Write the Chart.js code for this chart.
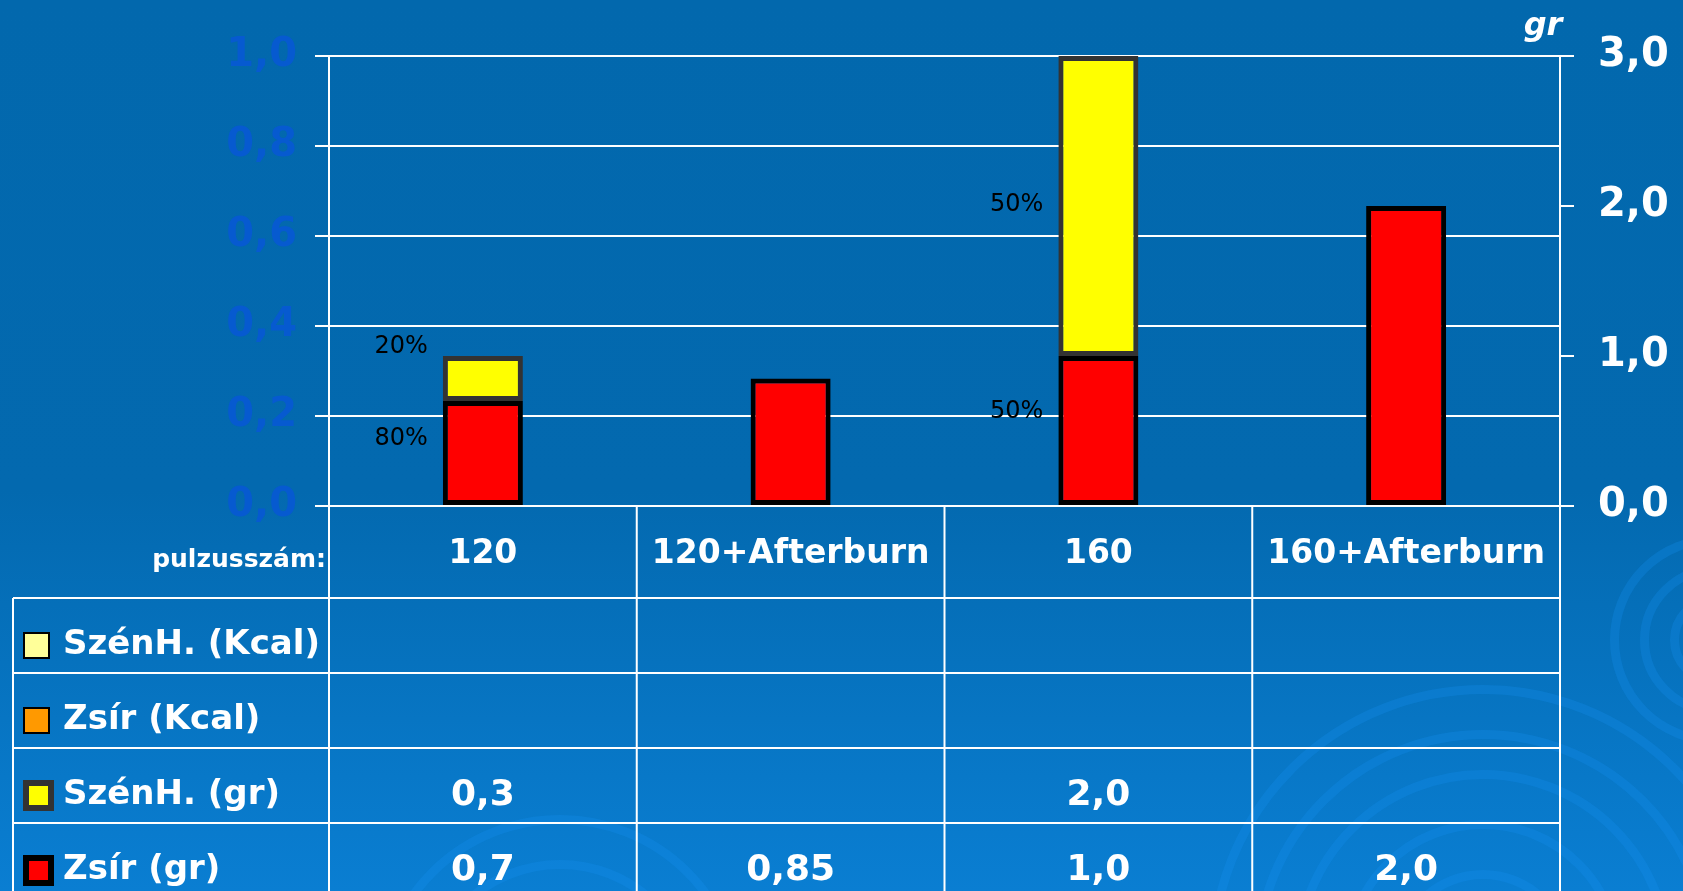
<!DOCTYPE html>
<html>
<head>
<meta charset="utf-8">
<title>Zsír és szénhidrát égetés</title>
<script src="https://cdn.jsdelivr.net/npm/chart.js@4.4.1/dist/chart.umd.min.js"></script>
<style>
  html, body { margin: 0; padding: 0; }
  body {
    width: 1683px; height: 891px; overflow: hidden; position: relative;
    background: linear-gradient(to bottom, #0268ad 0%, #0369af 55%, #0a7ed2 100%);
  }
  .kor { position: absolute; box-sizing: border-box; border-radius: 50%; border: 9px solid rgba(20, 145, 240, 0.28); }
  #doboz { position: absolute; left: 0; top: 0; width: 1683px; height: 891px; }
</style>
</head>
<body>
<div id="diszek"></div>
<div id="doboz"><canvas id="grafikon"></canvas></div>
<script>
// adatok
const kategoriak = ['120', '120+Afterburn', '160', '160+Afterburn'];
const szenhKcal = [null, null, null, null];
const zsirKcal = [null, null, null, null];
const szenhGr = [0.3, null, 2.0, null];
const zsirGr = [0.7, 0.85, 1.0, 2.0];
// százalékok a bal oldalon, és hogy milyen magasan (gr) állnak
const szenhSzazalek = ['20%', '', '50%', ''];
const zsirSzazalek = ['80%', '', '50%', ''];
const szenhSzazalekHely = [1.06, null, 2.01, null];
const zsirSzazalekHely = [0.45, null, 0.63, null];

// háttér körök (csak díszítés)
function diszek() {
    const hely = document.getElementById('diszek');
    const korok = [
        [1483, 960, 90], [1483, 960, 140], [1483, 960, 190], [1483, 960, 230], [1483, 960, 275],
        [1715, 640, 45], [1715, 640, 75], [1715, 640, 105],
        [560, 1000, 140], [560, 1000, 185]
    ];
    korok.forEach(k => {
        const d = document.createElement('div');
        d.className = 'kor';
        d.style.left = (k[0] - k[2]) + 'px';
        d.style.top = (k[1] - k[2]) + 'px';
        d.style.width = d.style.height = (2 * k[2]) + 'px';
        hely.appendChild(d);
    });
}
diszek();

// számok magyar formában: 0,3 / 2,0 / 0,85
function szam(v) {
    const tizedes = Math.round(v * 100) % 10 !== 0 ? 2 : 1;
    return v.toFixed(tizedes).replace('.', ',');
}

const betu = "'Comic Sans MS', 'DejaVu Sans', sans-serif";
Chart.defaults.font.family = betu;

// százalék feliratok a sávok bal oldalán
const szazalekPlugin = {
    id: 'szazalek',
    afterDatasetsDraw(chart) {
        const ctx = chart.ctx;
        ctx.save();
        ctx.font = '24px ' + betu;
        ctx.fillStyle = '#000';
        ctx.textAlign = 'right';
        ctx.textBaseline = 'middle';
        chart.data.datasets.forEach((ds, i) => {
            if (!ds.szazalek) return;
            const meta = chart.getDatasetMeta(i);
            ds.szazalek.forEach((szoveg, j) => {
                if (!szoveg) return;
                const sav = meta.data[j];
                const y = chart.scales.y2.getPixelForValue(ds.szazalekHely[j]);
                ctx.fillText(szoveg, sav.x - sav.width / 2 - 15, y);
            });
        });
        ctx.restore();
    }
};

// adattábla a grafikon alatt
const tablaPlugin = {
    id: 'tabla',
    afterDraw(chart) {
        const ctx = chart.ctx;
        const ter = chart.chartArea;
        const x = chart.scales.x;
        const n = kategoriak.length;
        const alja = chart.height;
        const felso = ter.bottom + 92;
        const sorMagas = 75;
        const balSzel = 13;

        const hatarok = [ter.left];
        for (let i = 1; i < n; i++) {
            hatarok.push((x.getPixelForValue(i - 1) + x.getPixelForValue(i)) / 2);
        }
        hatarok.push(ter.right);

        ctx.save();
        ctx.strokeStyle = '#fff';
        ctx.lineWidth = 2;
        ctx.beginPath();
        hatarok.forEach(h => {
            ctx.moveTo(h, ter.bottom);
            ctx.lineTo(h, alja);
        });
        ctx.moveTo(balSzel, felso);
        ctx.lineTo(balSzel, alja);
        const sorok = chart.data.datasets.slice().reverse();
        for (let k = 0; k < sorok.length; k++) {
            ctx.moveTo(balSzel, felso + k * sorMagas);
            ctx.lineTo(ter.right, felso + k * sorMagas);
        }
        ctx.stroke();

        // pulzusszám felirat
        ctx.fillStyle = '#fff';
        ctx.font = 'bold 25px ' + betu;
        ctx.textAlign = 'right';
        ctx.textBaseline = 'alphabetic';
        ctx.fillText('pulzusszám:', ter.left - 3, ter.bottom + 61);

        sorok.forEach((ds, k) => {
            const kozep = felso + k * sorMagas + sorMagas / 2 + 10;
            // jelmagyarázat négyzet
            const kw = ds.jelKeret;
            const m = 25 + kw;
            ctx.fillStyle = ds.borderColor;
            ctx.fillRect(23, kozep - m / 2, m, m);
            ctx.fillStyle = ds.backgroundColor;
            ctx.fillRect(23 + kw, kozep - m / 2 + kw, m - 2 * kw, m - 2 * kw);

            ctx.fillStyle = '#fff';
            ctx.font = 'bold 34px ' + betu;
            ctx.textAlign = 'left';
            ctx.textBaseline = 'middle';
            ctx.fillText(ds.label, 63, kozep);

            ctx.font = 'bold 36px ' + betu;
            ctx.textAlign = 'center';
            ds.data.forEach((v, j) => {
                if (v === null) return;
                ctx.fillText(szam(v), x.getPixelForValue(j), kozep);
            });
        });

        // gr felirat a jobb tengely fölött
        ctx.font = 'italic bold 32px ' + betu;
        ctx.textAlign = 'center';
        ctx.textBaseline = 'middle';
        ctx.fillText('gr', 1543, 27);
        ctx.restore();
    }
};

const ctx = document.getElementById('grafikon').getContext('2d');
new Chart(ctx, {
    type: 'bar',
    data: {
        labels: kategoriak,
        datasets: [
            {
                label: 'Zsír (gr)',
                data: zsirGr,
                backgroundColor: '#ff0000',
                borderColor: '#000000',
                borderWidth: 5,
                borderSkipped: false,
                jelKeret: 6,
                yAxisID: 'y2',
                stack: 'g',
                szazalek: zsirSzazalek,
                szazalekHely: zsirSzazalekHely
            },
            {
                label: 'SzénH. (gr)',
                data: szenhGr,
                backgroundColor: '#ffff00',
                borderColor: '#333333',
                borderWidth: 5,
                borderSkipped: false,
                jelKeret: 6,
                yAxisID: 'y2',
                stack: 'g',
                szazalek: szenhSzazalek,
                szazalekHely: szenhSzazalekHely
            },
            {
                label: 'Zsír (Kcal)',
                data: zsirKcal,
                backgroundColor: '#ff9900',
                borderColor: '#000000',
                borderWidth: 2,
                jelKeret: 2,
                yAxisID: 'y2',
                stack: 'g'
            },
            {
                label: 'SzénH. (Kcal)',
                data: szenhKcal,
                backgroundColor: '#ffff99',
                borderColor: '#000000',
                borderWidth: 2,
                jelKeret: 2,
                yAxisID: 'y2',
                stack: 'g'
            }
        ]
    },
    options: {
        responsive: true,
        maintainAspectRatio: false,
        animation: false,
        devicePixelRatio: 1,
        layout: { padding: { top: 56, left: 0, right: 0, bottom: 0 } },
        datasets: { bar: { categoryPercentage: 1, barPercentage: 0.26 } },
        plugins: {
            legend: { display: false },
            tooltip: { enabled: false }
        },
        scales: {
            x: {
                stacked: true,
                grid: { display: false, drawTicks: false },
                border: { color: '#ffffff', width: 2 },
                ticks: {
                    color: '#ffffff',
                    font: { size: 33, weight: 'bold' },
                    padding: 29,
                    maxRotation: 0,
                    autoSkip: false
                },
                afterFit(s) { s.height = 385; }
            },
            y: {
                position: 'left',
                min: 0,
                max: 1,
                ticks: {
                    stepSize: 0.2,
                    color: '#065ad0',
                    font: { size: 40, weight: 'bold' },
                    padding: 18,
                    callback: v => szam(v)
                },
                grid: { color: '#ffffff', lineWidth: 2, tickLength: 14 },
                border: { color: '#ffffff', width: 2 },
                afterFit(s) { s.width = 329; }
            },
            y2: {
                position: 'right',
                stacked: true,
                min: 0,
                max: 3,
                ticks: {
                    stepSize: 1,
                    color: '#ffffff',
                    font: { size: 40, weight: 'bold' },
                    padding: 24,
                    callback: v => szam(v)
                },
                grid: { drawOnChartArea: false, color: '#ffffff', lineWidth: 2, tickLength: 14 },
                border: { color: '#ffffff', width: 2 },
                afterFit(s) { s.width = 123; }
            }
        }
    },
    plugins: [szazalekPlugin, tablaPlugin]
});
</script>
</body>
</html>
